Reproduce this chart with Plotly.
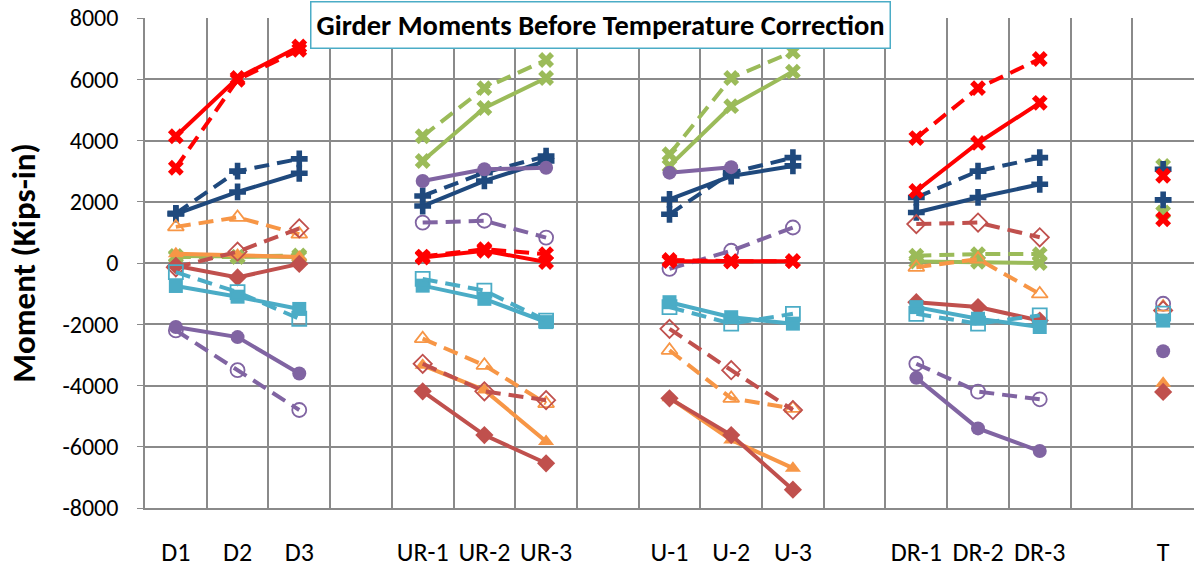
import plotly.graph_objects as go

# Category axis: five load groups separated by blank slots
categories = ["D1", "D2", "D3", "",
              "UR-1", "UR-2", "UR-3", "",
              "U-1", "U-2", "U-3", "",
              "DR-1", "DR-2", "DR-3", "",
              "T"]

# Value-axis ticks
y_ticks = [-8000, -6000, -4000, -2000, 0, 2000, 4000, 6000, 8000]
y_tick_text = ["-8000", "-6000", "-4000", "-2000", "0", "2000", "4000", "6000", "8000"]

# Girder moments (kips-in); None leaves a gap between groups
red_solid = [4140, 6040, 7070, None, 180, 400, 30, None, 60, 50, 60, None, 2350, 3920, 5230, None, 2850]
red_dashed = [3110, 5980, 6960, None, 210, 450, 290, None, 100, 60, 60, None, 4080, 5710, 6660, None, 1430]
green_solid = [230, 200, 200, None, 3330, 5060, 6040, None, 3170, 5120, 6250, None, 50, 40, 0, None, 3170]
green_dashed = [200, 200, 250, None, 4140, 5710, 6630, None, 3550, 6040, 6900, None, 240, 290, 290, None, 1650]
blue_solid = [1600, 2320, 2930, None, 1860, 2680, 3330, None, 2080, 2840, 3170, None, 1650, 2140, 2570, None, 2060]
blue_dashed = [1620, 3000, 3400, None, 2190, 2950, 3490, None, 1590, 2950, 3440, None, 2140, 3000, 3440, None, 3060]
purple_solid = [-2090, -2420, -3610, None, 2680, 3060, 3110, None, 2950, 3130, None, None, -3750, -5400, -6140, None, -2880]
purple_dashed = [-2200, -3500, -4800, None, 1320, 1380, 830, None, -190, 400, 1160, None, -3290, -4200, -4450, None, -1330]
orange_solid = [300, 260, 200, None, -3340, -4150, -5830, None, -4400, -5780, -6700, None, None, None, None, None, -3930]
orange_dashed = [1180, 1490, 940, None, -2470, -3340, -4590, None, -2850, -4420, -4750, None, -140, 130, -1010, None, -1440]
darkred_solid = [-90, -470, -30, None, -4190, -5620, -6540, None, -4420, -5620, -7400, None, -1280, -1440, -1880, None, -4210]
darkred_dashed = [-140, 370, 1130, None, -3290, -4190, -4480, None, -2150, -3500, -4800, None, 1270, 1320, 840, None, -1550]
cyan_solid = [-750, -1100, -1500, None, -740, -1170, -1930, None, -1280, -1770, -1980, None, -1440, -1820, -2090, None, -1880]
cyan_dashed = [-300, -950, -1820, None, -520, -900, -1880, None, -1440, -1980, -1660, None, -1660, -1980, -1710, None, -1650]

positions = list(range(len(categories)))
label_pos = [p for p, c in zip(positions, categories) if c]
label_txt = [c for c in categories if c]

FONT = "Calibri, Carlito, Lato, sans-serif"
GRID = "#8a8a8a"
DASH = "15px,8px"

series = [
    ("Girder 1", green_solid, "#9BBB59", "x", "solid"),
    ("Girder 1 (alt)", green_dashed, "#9BBB59", "x", DASH),
    ("Girder 2", blue_solid, "#1F497D", "cross", "solid"),
    ("Girder 2 (alt)", blue_dashed, "#1F497D", "cross", DASH),
    ("Girder 3", purple_solid, "#8064A2", "circle", "solid"),
    ("Girder 3 (alt)", purple_dashed, "#8064A2", "circle-open", DASH),
    ("Girder 4", orange_solid, "#F79646", "triangle-up", "solid"),
    ("Girder 4 (alt)", orange_dashed, "#F79646", "triangle-up-open", DASH),
    ("Girder 5", darkred_solid, "#C0504D", "diamond", "solid"),
    ("Girder 5 (alt)", darkred_dashed, "#C0504D", "diamond-open", DASH),
    ("Girder 6", cyan_solid, "#4BACC6", "square", "solid"),
    ("Girder 6 (alt)", cyan_dashed, "#4BACC6", "square-open", DASH),
    ("Girder 7", red_solid, "#FF0000", "x", "solid"),
    ("Girder 7 (alt)", red_dashed, "#FF0000", "x", DASH),
]

fig = go.Figure()
for name, vals, color, symbol, dash in series:
    is_open = symbol.endswith("-open")
    fig.add_trace(go.Scatter(
        x=positions, y=vals, name=name, mode="lines+markers",
        connectgaps=False,
        line=dict(color=color, width=4, dash=dash),
        marker=dict(symbol=symbol, size=14, color=color,
                    line=dict(color=color, width=1.8 if is_open else 0)),
        showlegend=False,
    ))

fig.update_layout(
    width=1195, height=569,
    margin=dict(l=145, r=1, t=18, b=58),
    paper_bgcolor="white", plot_bgcolor="white",
    font=dict(family=FONT, color="black"),
)

fig.update_xaxes(
    range=[-0.5, 16.5],
    tickmode="array", tickvals=label_pos, ticktext=label_txt,
    tickfont=dict(size=26), ticks="", ticklabelstandoff=20,
    showgrid=False, zeroline=False,
    showline=True, linecolor=GRID, linewidth=1.5,
    minor=dict(tickmode="linear", tick0=-0.5, dtick=1,
               showgrid=True, gridcolor=GRID, gridwidth=1.5),
)

fig.update_yaxes(
    range=[-8000, 8000],
    tickmode="array", tickvals=y_ticks, ticktext=y_tick_text,
    tickfont=dict(size=24),
    showgrid=True, gridcolor=GRID, gridwidth=1.5,
    zeroline=False,
    showline=True, linecolor=GRID, linewidth=1.5,
    ticks="outside", ticklen=6, tickcolor=GRID,
    ticklabelstandoff=14,
    title=dict(text="<b>Moment (Kips-in)</b>", font=dict(size=33), standoff=17),
)

fig.add_annotation(
    text="<b>Girder Moments Before Temperature Correction</b>",
    xref="paper", yref="paper", x=0.434, y=0.986,
    xanchor="center", yanchor="middle", showarrow=False,
    font=dict(size=28.5, family=FONT),
    bgcolor="white", bordercolor="#4BACC6", borderwidth=1.5, borderpad=5,
)

fig.write_html("out.html")
